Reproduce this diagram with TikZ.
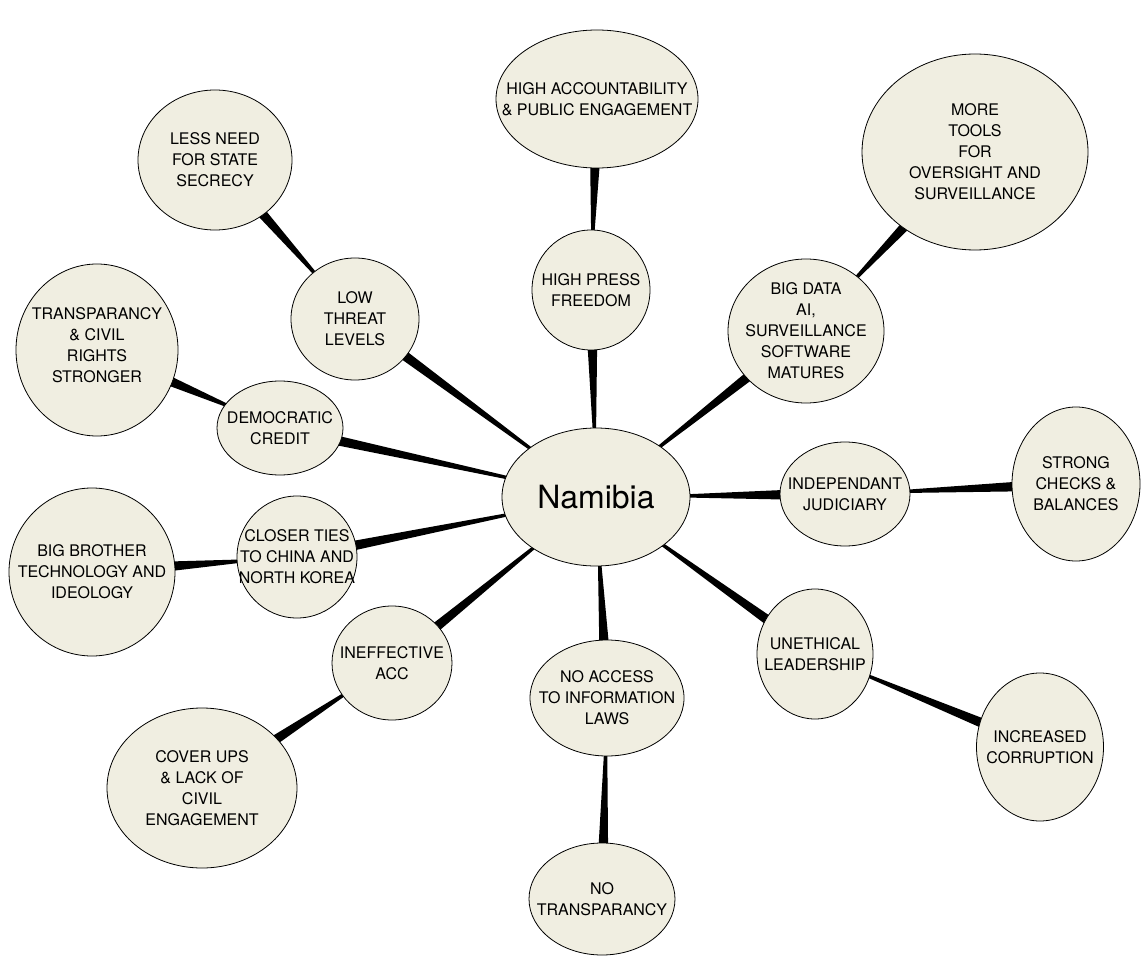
\documentclass[tikz,border=0pt]{standalone}
\usepackage{fontspec}
\setmainfont{TeX Gyre Heros}
\usepackage{xcolor}
\usepackage{tikz}
\usetikzlibrary{shapes.geometric, calc, backgrounds}

\definecolor{cream}{RGB}{240,238,225}

% tapered spoke from parent #1 (thin) to child #2 (thick)
\newcommand{\spoke}[2]{%
  \path (#1) -- (#2) coordinate[pos=0] (sp-a0) coordinate[pos=1] (sp-b0);
  \coordinate (sp-a) at ($(sp-a0)!-5pt!(sp-b0)$);
  \coordinate (sp-b) at ($(sp-b0)!-5pt!(sp-a0)$);
  \fill ($(sp-a)!1.6pt!90:(sp-b)$) -- ($(sp-a)!1.6pt!-90:(sp-b)$)
     -- ($(sp-b)!4.8pt!90:(sp-a)$) -- ($(sp-b)!4.8pt!-90:(sp-a)$) -- cycle;
}

\begin{document}
\begin{tikzpicture}[x=1pt, y=-1pt]

		% Define bubble styles
		\tikzstyle{bubble} = [ellipse, draw=black, line width=0.8pt, fill=cream, inner sep=0pt]
		\tikzstyle{txt} = [font=\fontsize{16}{21}\selectfont, align=center, inner sep=0pt]

		\useasboundingbox (0,0) rectangle (1145,957);

		% Hub
		\node[bubble, minimum width=188pt, minimum height=138pt,
		      label={[txt, font=\fontsize{32}{38}\selectfont]center:Namibia}] (namibia) at (596,497) {};

		% Nodes
		\node[bubble, minimum width=118pt, minimum height=120pt,
		      label={[txt]center:{HIGH PRESS\\FREEDOM}}] (press) at (591,290) {};
		\node[bubble, minimum width=202pt, minimum height=138pt,
		      label={[txt]center:{HIGH ACCOUNTABILITY\\\& PUBLIC ENGAGEMENT}}] (account) at (597,99) {};
		\node[bubble, minimum width=156pt, minimum height=144pt,
		      label={[txt]center:{BIG DATA\\AI,\\SURVEILLANCE\\SOFTWARE\\MATURES}}] (bigdata) at (806,331) {};
		\node[bubble, minimum width=226pt, minimum height=196pt,
		      label={[txt]center:{MORE\\TOOLS\\FOR\\OVERSIGHT AND\\SURVEILLANCE}}] (tools) at (975,152) {};
		\node[bubble, minimum width=130pt, minimum height=104pt,
		      label={[txt]center:{INDEPENDANT\\JUDICIARY}}] (judiciary) at (845,494) {};
		\node[bubble, minimum width=128pt, minimum height=154pt,
		      label={[txt]center:{STRONG\\CHECKS \&\\BALANCES}}] (checks) at (1076,484) {};
		\node[bubble, minimum width=116pt, minimum height=130pt,
		      label={[txt]center:{UNETHICAL\\LEADERSHIP}}] (unethical) at (815,654) {};
		\node[bubble, minimum width=127pt, minimum height=148pt,
		      label={[txt]center:{INCREASED\\CORRUPTION}}] (corruption) at (1040,747) {};
		\node[bubble, minimum width=154pt, minimum height=116pt,
		      label={[txt]center:{NO ACCESS\\TO INFORMATION\\LAWS}}] (infolaws) at (607,698) {};
		\node[bubble, minimum width=146pt, minimum height=112pt,
		      label={[txt]center:{NO\\TRANSPARANCY}}] (notransp) at (602,899) {};
		\node[bubble, minimum width=120pt, minimum height=114pt,
		      label={[txt]center:{INEFFECTIVE\\ACC}}] (acc) at (392,663) {};
		\node[bubble, minimum width=190pt, minimum height=160pt,
		      label={[txt]center:{COVER UPS\\\& LACK OF\\CIVIL\\ENGAGEMENT}}] (coverups) at (202,788) {};
		\node[bubble, minimum width=120pt, minimum height=122pt,
		      label={[txt]center:{CLOSER TIES\\TO CHINA AND\\NORTH KOREA}}] (china) at (297,557) {};
		\node[bubble, minimum width=166pt, minimum height=168pt,
		      label={[txt]center:{BIG BROTHER\\TECHNOLOGY AND\\IDEOLOGY}}] (bigbrother) at (92,572) {};
		\node[bubble, minimum width=126pt, minimum height=94pt,
		      label={[txt]center:{DEMOCRATIC\\CREDIT}}] (credit) at (280,428) {};
		\node[bubble, minimum width=162pt, minimum height=172pt,
		      label={[txt, yshift=5pt]center:{TRANSPARANCY\\\& CIVIL\\RIGHTS\\STRONGER}}] (rights) at (97,350) {};
		\node[bubble, minimum width=128pt, minimum height=122pt,
		      label={[txt]center:{LOW\\THREAT\\LEVELS}}] (threat) at (355,319) {};
		\node[bubble, minimum width=154pt, minimum height=140pt,
		      label={[txt]center:{LESS NEED\\FOR STATE\\SECRECY}}] (secrecy) at (215,160) {};

		% Spokes
		\begin{scope}[on background layer]
			\fill[white] (0,0) rectangle (1145,957);
			\spoke{namibia}{press}      \spoke{press}{account}
			\spoke{namibia}{bigdata}    \spoke{bigdata}{tools}
			\spoke{namibia}{judiciary}  \spoke{judiciary}{checks}
			\spoke{namibia}{unethical}  \spoke{unethical}{corruption}
			\spoke{namibia}{infolaws}   \spoke{infolaws}{notransp}
			\spoke{namibia}{acc}        \spoke{acc}{coverups}
			\spoke{namibia}{china}      \spoke{china}{bigbrother}
			\spoke{namibia}{credit}     \spoke{credit}{rights}
			\spoke{namibia}{threat}     \spoke{threat}{secrecy}
		\end{scope}

	\end{tikzpicture}
\end{document}
